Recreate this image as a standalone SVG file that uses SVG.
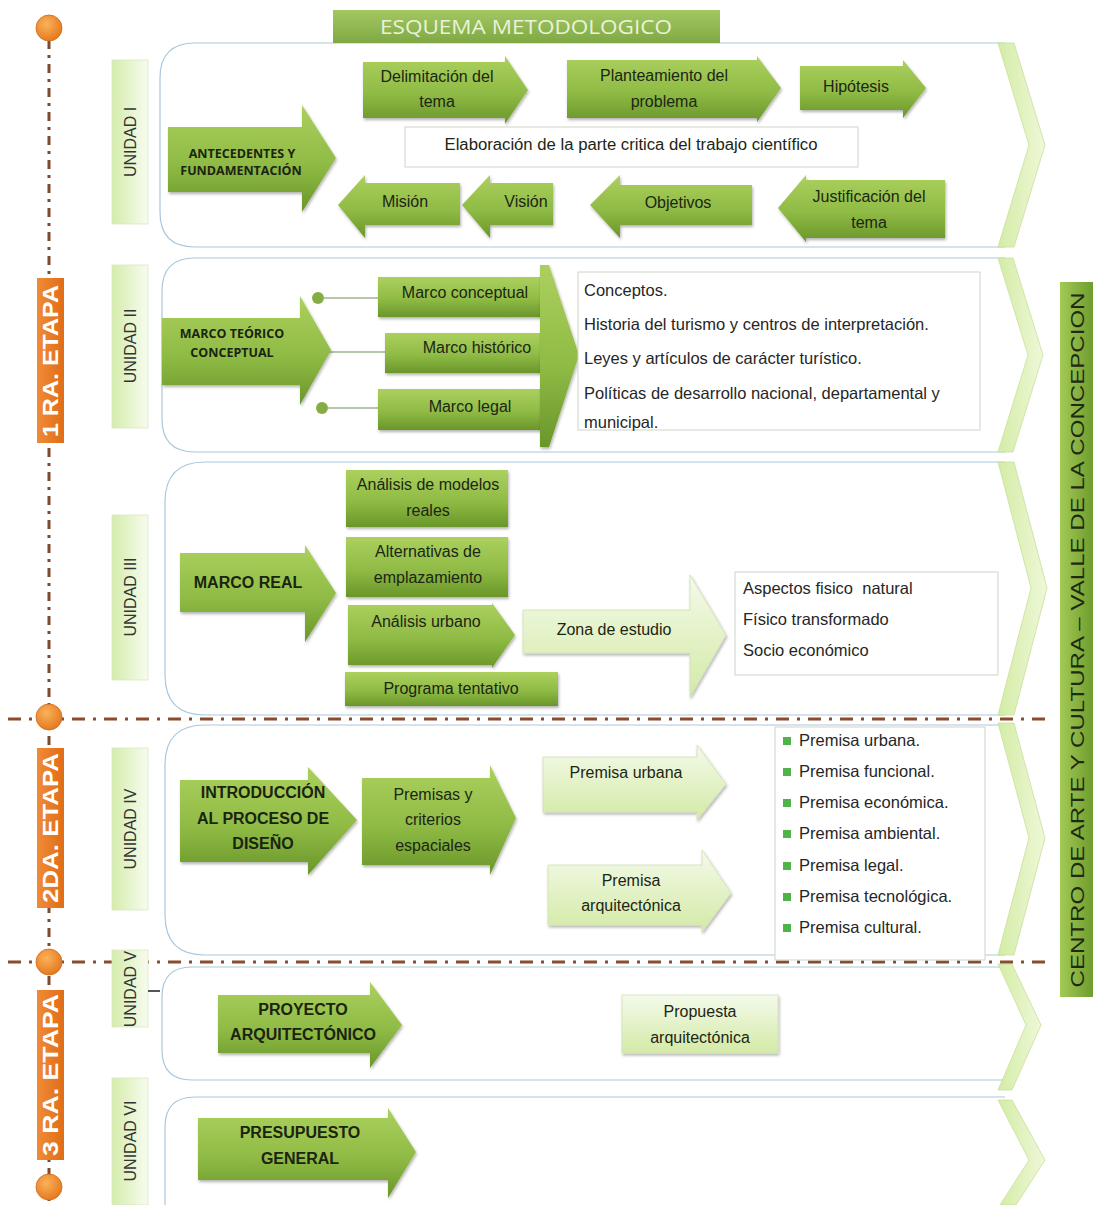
<svg xmlns="http://www.w3.org/2000/svg" width="1093" height="1205" viewBox="0 0 1093 1205">
<defs>
<linearGradient id="gDark" x1="0" y1="0" x2="0" y2="1">
<stop offset="0" stop-color="#acd05e"/><stop offset="0.55" stop-color="#8fbb45"/><stop offset="1" stop-color="#6a962a"/>
</linearGradient>
<linearGradient id="gLight" x1="0" y1="0" x2="0" y2="1">
<stop offset="0" stop-color="#f4faea"/><stop offset="1" stop-color="#d3eaa6"/>
</linearGradient>
<linearGradient id="gChev" x1="0" y1="0" x2="1" y2="0">
<stop offset="0" stop-color="#d4eca6"/><stop offset="1" stop-color="#eef8d8"/>
</linearGradient>
<linearGradient id="gUnit" x1="0" y1="0" x2="1" y2="0">
<stop offset="0" stop-color="#d4ecab"/><stop offset="1" stop-color="#f8fcef"/>
</linearGradient>
<linearGradient id="gOrange" x1="0" y1="0" x2="1" y2="0">
<stop offset="0" stop-color="#f08b35"/><stop offset="1" stop-color="#e06d18"/>
</linearGradient>
<linearGradient id="gBar" x1="0" y1="0" x2="1" y2="0">
<stop offset="0" stop-color="#a2ca55"/><stop offset="1" stop-color="#6f9c2e"/>
</linearGradient>
<linearGradient id="gTitle" x1="0" y1="0" x2="0" y2="1">
<stop offset="0" stop-color="#a3c862"/><stop offset="1" stop-color="#7fa844"/>
</linearGradient>
<radialGradient id="gDot" cx="0.4" cy="0.35" r="0.7">
<stop offset="0" stop-color="#fbb25a"/><stop offset="1" stop-color="#e2761c"/>
</radialGradient>
<filter id="sh" x="-10%" y="-10%" width="120%" height="130%">
<feDropShadow dx="1" dy="2" stdDeviation="1.5" flood-color="#000" flood-opacity="0.3"/>
</filter>
<style>
.panel{fill:#fff;stroke:#a9c7dd;stroke-width:1.2}
.chev{fill:url(#gChev);stroke:#c6df9a;stroke-width:0.8}
.unit{fill:url(#gUnit);stroke:#d8e8c0;stroke-width:0.8}
.dk{fill:url(#gDark);filter:url(#sh)}
.lt{fill:url(#gLight);stroke:#cfe0b4;stroke-width:0.8;filter:url(#sh)}
.wb{fill:#fff;stroke:#cfd4c8;stroke-width:1}
.t{font-family:"Liberation Sans",Arial,sans-serif;font-size:16px;fill:#1c2614;text-anchor:middle}
.tl{font-family:"Liberation Sans",Arial,sans-serif;font-size:16.5px;fill:#262626}
.tb{font-family:"Liberation Sans",Arial,sans-serif;font-size:16px;font-weight:bold;fill:#1a2410;text-anchor:middle}
.tc{font-family:"Open Sans","DejaVu Sans",sans-serif;font-size:12.5px;font-weight:bold;fill:#1a2410;text-anchor:middle}
.tu{font-family:"Liberation Sans",Arial,sans-serif;font-size:16px;fill:#333;text-anchor:middle}
.te{font-family:"Liberation Sans",Arial,sans-serif;font-size:22px;font-weight:bold;fill:#fff;text-anchor:middle}
.orange{fill:url(#gOrange)}
.dot{fill:url(#gDot);stroke:#d06a18;stroke-width:0.8}
.tl-v{stroke:#7b4a30;stroke-width:3;stroke-dasharray:9 6 3 6;fill:none}
.tl-h{stroke:#8a4d2c;stroke-width:3;stroke-dasharray:13 8 3 8;fill:none}
.bul{fill:#4db34a}
.conn{stroke:#9fb38f;stroke-width:1.5;fill:none}
.cdot{fill:#86ad45}
</style>
</defs>
<rect width="1093" height="1205" fill="#fff"/>

<!-- panels -->
<g id="panels">
<path class="panel" d="M1005,43 H195 Q160,43 160,78 V212 Q160,247 195,247 H1005"/>
<path class="panel" d="M1005,258 H195 Q162,258 162,291 V419 Q162,452 195,452 H1005"/>
<path class="panel" d="M1005,462 H205 Q165,462 165,502 V675 Q165,715 205,715 H1005"/>
<path class="panel" d="M1005,725 H205 Q165,725 165,765 V915 Q165,955 205,955 H1005"/>
<path class="panel" d="M1005,967 H192 Q162,967 162,997 V1050 Q162,1080 192,1080 H1005"/>
<path class="panel" d="M1005,1097 H195 Q165,1097 165,1127 V1205"/>
<polygon class="chev" points="998,43 1014,43 1045,145 1014,247 998,247 1029,145"/>
<polygon class="chev" points="998,258 1013,258 1043,355 1013,452 998,452 1028,355"/>
<polygon class="chev" points="998,462 1014,462 1047,588 1014,715 998,715 1031,588"/>
<polygon class="chev" points="998,723 1014,723 1045,838 1014,955 998,955 1029,838"/>
<polygon class="chev" points="998,964 1012,964 1041,1025 1012,1090 998,1090 1026,1025"/>
<polygon class="chev" points="998,1100 1012,1100 1045,1160 1016,1205 1000,1205 1029,1160"/>
</g>

<!-- timeline -->
<g id="timeline">
<line class="tl-v" x1="49" y1="40" x2="49" y2="1205"/>
<line class="tl-h" x1="8" y1="719" x2="1052" y2="719"/>
<line class="tl-h" x1="8" y1="962" x2="1052" y2="962"/>
<circle class="dot" cx="49" cy="28" r="13"/>
<circle class="dot" cx="49" cy="717" r="13"/>
<circle class="dot" cx="49" cy="962" r="13"/>
<circle class="dot" cx="49" cy="1187" r="13"/>
</g>

<g id="stage1"><rect class="orange" x="37" y="278" width="27" height="165"/>
<text class="te" transform="translate(58,361) rotate(-90)" textLength="152" lengthAdjust="spacingAndGlyphs">1 RA. ETAPA</text></g>
<g id="stage2"><rect class="orange" x="37" y="748" width="27" height="160"/>
<text class="te" transform="translate(58,828) rotate(-90)" textLength="150" lengthAdjust="spacingAndGlyphs">2DA. ETAPA</text></g>
<g id="stage3"><rect class="orange" x="37" y="990" width="27" height="170"/>
<text class="te" transform="translate(58,1075) rotate(-90)" textLength="162" lengthAdjust="spacingAndGlyphs">3 RA. ETAPA</text></g>

<!-- title -->
<g id="title"><rect x="333" y="10" width="387" height="33" fill="url(#gTitle)"/>
<text x="526" y="34" font-family="'Open Sans','DejaVu Sans',sans-serif" font-size="20" fill="#eaf2d8" text-anchor="middle" textLength="292" lengthAdjust="spacingAndGlyphs">ESQUEMA METODOLOGICO</text></g>

<!-- right bar -->
<g id="project-bar"><rect x="1060" y="282" width="33" height="715" fill="url(#gBar)"/>
<text transform="translate(1084,640) rotate(-90)" font-family="'Liberation Sans',Arial,sans-serif" font-size="19" fill="#1e2a12" text-anchor="middle" textLength="695" lengthAdjust="spacingAndGlyphs">CENTRO DE ARTE Y CULTURA – VALLE DE LA CONCEPCION</text></g>

<!-- unit labels -->
<g id="unit1"><rect class="unit" x="112" y="60" width="36" height="164"/><text class="tu" transform="translate(136,142) rotate(-90)">UNIDAD I</text></g>
<g id="unit2"><rect class="unit" x="112" y="265" width="36" height="163"/><text class="tu" transform="translate(136,346) rotate(-90)">UNIDAD II</text></g>
<g id="unit3"><rect class="unit" x="112" y="515" width="36" height="165"/><text class="tu" transform="translate(136,597) rotate(-90)">UNIDAD III</text></g>
<g id="unit4"><rect class="unit" x="112" y="748" width="36" height="162"/><text class="tu" transform="translate(136,829) rotate(-90)">UNIDAD IV</text></g>
<g id="unit5"><rect class="unit" x="112" y="950" width="36" height="77"/><text class="tu" transform="translate(136,989) rotate(-90)">UNIDAD V</text></g>
<g id="unit6"><rect class="unit" x="112" y="1078" width="36" height="127"/><text class="tu" transform="translate(136,1141) rotate(-90)">UNIDAD VI</text></g>

<!-- connectors -->
<g id="connectors">
<line class="conn" x1="324" y1="298" x2="378" y2="298"/>
<line class="conn" x1="329" y1="352" x2="385" y2="352"/>
<line class="conn" x1="328" y1="408" x2="378" y2="408"/>
<circle class="cdot" cx="318" cy="298" r="6"/>
<circle class="cdot" cx="323" cy="352" r="6"/>
<circle class="cdot" cx="322" cy="408" r="6"/>
<line x1="148" y1="991" x2="160" y2="991" stroke="#555" stroke-width="2"/>
</g>

<!-- UNIDAD I -->
<g id="antecedentes"><path class="dk" d="M168,127 H302 V105 L336,158 L302,212 V192 H168 Z"/>
<text class="tc" x="242" y="158">ANTECEDENTES Y</text><text class="tc" x="241" y="175">FUNDAMENTACIÓN</text></g>
<g id="delimitacion"><path class="dk" d="M363,62 H505 V56 L528,90 L505,124 V118 H363 Z"/>
<text class="t" x="437" y="82">Delimitación del</text><text class="t" x="437" y="107">tema</text></g>
<g id="planteamiento"><path class="dk" d="M567,60 H757 V56 L781,88 L757,122 V118 H567 Z"/>
<text class="t" x="664" y="81">Planteamiento del</text><text class="t" x="664" y="107">problema</text></g>
<g id="hipotesis"><path class="dk" d="M800,66 H903 V60 L926,88 L903,118 V110 H800 Z"/>
<text class="t" x="856" y="92">Hipótesis</text></g>
<g id="elaboracion"><rect class="wb" x="405" y="127" width="453" height="40"/>
<text class="t" x="631" y="150" textLength="373" lengthAdjust="spacingAndGlyphs">Elaboración de la parte critica del trabajo científico</text></g>
<g id="justificacion"><path class="dk" d="M945,180 H806 V175 L778,208 L806,242 V238 H945 Z"/>
<text class="t" x="869" y="202">Justificación del</text><text class="t" x="869" y="228">tema</text></g>
<g id="objetivos"><path class="dk" d="M752,185 H620 V175 L590,205 L620,238 V225 H752 Z"/>
<text class="t" x="678" y="208">Objetivos</text></g>
<g id="vision"><path class="dk" d="M553,183 H490 V175 L462,205 L490,238 V225 H553 Z"/>
<text class="t" x="526" y="207">Visión</text></g>
<g id="mision"><path class="dk" d="M460,183 H365 V175 L338,205 L365,238 V225 H460 Z"/>
<text class="t" x="405" y="207">Misión</text></g>

<!-- UNIDAD II -->
<g id="marco-teorico"><path class="dk" d="M162,318 H300 V296 L331,350 L300,405 V385 H162 Z"/>
<text class="tc" x="232" y="338" font-size="13.5">MARCO TEÓRICO</text><text class="tc" x="232" y="357" font-size="13.5">CONCEPTUAL</text></g>
<g id="marco-conceptual"><rect class="dk" x="378" y="277" width="174" height="40"/><text class="t" x="465" y="298">Marco conceptual</text></g>
<g id="marco-historico"><rect class="dk" x="385" y="333" width="167" height="40"/><text class="t" x="477" y="353">Marco histórico</text></g>
<g id="marco-legal"><rect class="dk" x="378" y="389" width="174" height="41"/><text class="t" x="470" y="412">Marco legal</text></g>
<g id="brace2"><polygon class="dk" points="540,265 549,265 579,355 549,447 540,447"/></g>
<g id="contenido-teorico"><rect class="wb" x="578" y="272" width="402" height="158"/>
<text class="tl" x="584" y="296">Conceptos.</text>
<text class="tl" x="584" y="330">Historia del turismo y centros de interpretación.</text>
<text class="tl" x="584" y="364">Leyes y artículos de carácter turístico.</text>
<text class="tl" x="584" y="399">Políticas de desarrollo nacional, departamental y</text>
<text class="tl" x="584" y="428">municipal.</text></g>

<!-- UNIDAD III -->
<g id="marco-real"><path class="dk" d="M180,553 H305 V545 L336,593 L305,642 V612 H180 Z"/>
<text class="tb" x="248" y="588">MARCO REAL</text></g>
<g id="modelos"><rect class="dk" x="346" y="470" width="162" height="57"/>
<text class="t" x="428" y="490">Análisis de modelos</text><text class="t" x="428" y="516">reales</text></g>
<g id="alternativas"><rect class="dk" x="346" y="537" width="162" height="60"/>
<text class="t" x="428" y="557">Alternativas de</text><text class="t" x="428" y="583">emplazamiento</text></g>
<g id="analisis-urbano"><path class="dk" d="M348,605 H492 V603 L515,635 L492,668 V665 H348 Z"/>
<text class="t" x="426" y="627">Análisis urbano</text></g>
<g id="programa"><rect class="dk" x="345" y="672" width="213" height="34"/>
<text class="t" x="451" y="694">Programa tentativo</text></g>
<g id="zona-estudio"><path class="lt" d="M523,610 H690 V575 L726,635 L690,697 V653 H523 Z"/>
<text class="t" x="614" y="635">Zona de estudio</text></g>
<g id="aspectos"><rect class="wb" x="735" y="572" width="263" height="103"/>
<text class="tl" x="743" y="594" xml:space="preserve">Aspectos fisico  natural</text>
<text class="tl" x="743" y="625">Físico transformado</text>
<text class="tl" x="743" y="656">Socio económico</text></g>

<!-- UNIDAD IV -->
<g id="introduccion"><path class="dk" d="M180,780 H308 V767 L357,820 L308,875 V862 H180 Z"/>
<text class="tb" x="263" y="798">INTRODUCCIÓN</text><text class="tb" x="263" y="824">AL PROCESO DE</text><text class="tb" x="263" y="849">DISEÑO</text></g>
<g id="premisas-criterios"><path class="dk" d="M362,778 H490 V765 L516,818 L490,875 V865 H362 Z"/>
<text class="t" x="433" y="800">Premisas y</text><text class="t" x="433" y="825">criterios</text><text class="t" x="433" y="851">espaciales</text></g>
<g id="premisa-urbana-n"><path class="lt" d="M543,757 H697 V745 L726,784 L697,820 V812 H543 Z"/>
<text class="t" x="626" y="778">Premisa urbana</text></g>
<g id="premisa-arq-n"><path class="lt" d="M548,865 H702 V850 L731,893 L702,932 V925 H548 Z"/>
<text class="t" x="631" y="886">Premisa</text><text class="t" x="631" y="911">arquitectónica</text></g>
<g id="lista-premisas"><rect class="wb" x="775" y="727" width="210" height="233"/>
<rect class="bul" x="783" y="737" width="8" height="8"/><text class="tl" x="799" y="746">Premisa urbana.</text>
<rect class="bul" x="783" y="768" width="8" height="8"/><text class="tl" x="799" y="777">Premisa funcional.</text>
<rect class="bul" x="783" y="799" width="8" height="8"/><text class="tl" x="799" y="808">Premisa económica.</text>
<rect class="bul" x="783" y="830" width="8" height="8"/><text class="tl" x="799" y="839">Premisa ambiental.</text>
<rect class="bul" x="783" y="862" width="8" height="8"/><text class="tl" x="799" y="871">Premisa legal.</text>
<rect class="bul" x="783" y="893" width="8" height="8"/><text class="tl" x="799" y="902">Premisa tecnológica.</text>
<rect class="bul" x="783" y="924" width="8" height="8"/><text class="tl" x="799" y="933">Premisa cultural.</text></g>

<!-- UNIDAD V -->
<g id="proyecto"><path class="dk" d="M218,995 H370 V982 L402,1025 L370,1068 V1053 H218 Z"/>
<text class="tb" x="303" y="1015">PROYECTO</text><text class="tb" x="303" y="1040">ARQUITECTÓNICO</text></g>
<g id="propuesta"><rect class="lt" x="622" y="995" width="156" height="58"/>
<text class="t" x="700" y="1017">Propuesta</text><text class="t" x="700" y="1043">arquitectónica</text></g>

<!-- UNIDAD VI -->
<g id="presupuesto"><path class="dk" d="M198,1118 H388 V1108 L416,1152 L388,1198 V1180 H198 Z"/>
<text class="tb" x="300" y="1138">PRESUPUESTO</text><text class="tb" x="300" y="1164">GENERAL</text></g>
</svg>
